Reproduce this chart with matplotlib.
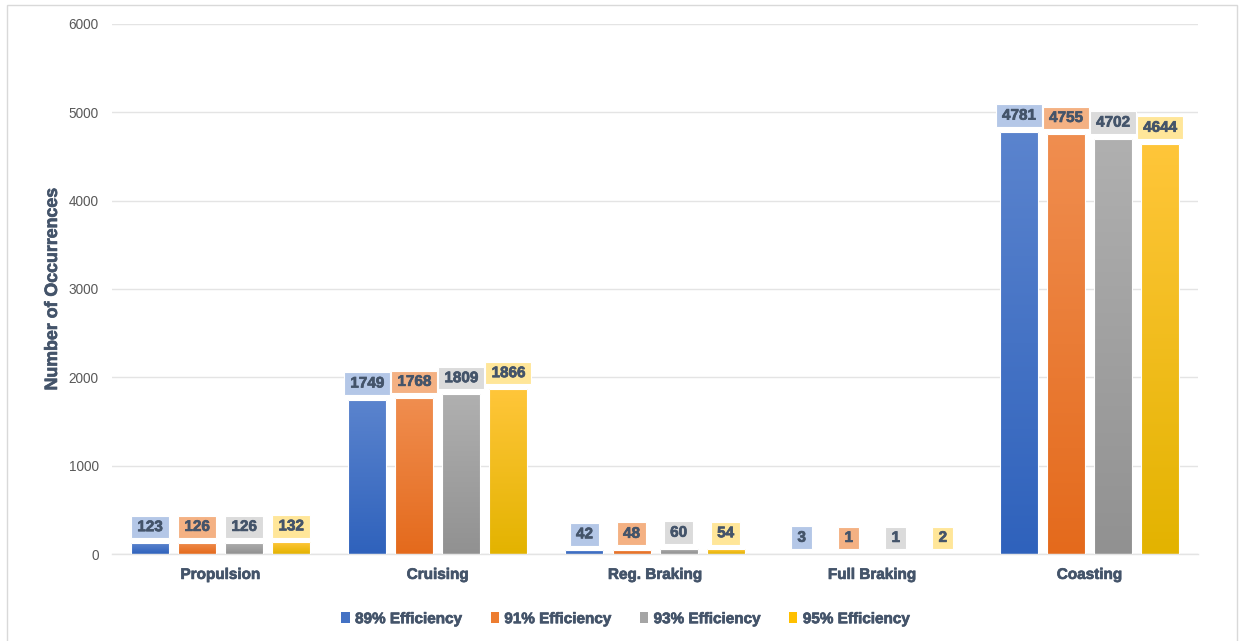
import matplotlib
matplotlib.use("Agg")
import matplotlib.pyplot as plt
import matplotlib.patheffects as pe
import numpy as np
from matplotlib.colors import LinearSegmentedColormap
from matplotlib.patches import Rectangle
from matplotlib.path import Path

categories = ["Propulsion", "Cruising", "Reg. Braking", "Full Braking", "Coasting"]
series_names = ["89% Efficiency", "91% Efficiency", "93% Efficiency", "95% Efficiency"]
eff89 = [123, 1749, 42, 3, 4781]
eff91 = [126, 1768, 48, 1, 4755]
eff93 = [126, 1809, 60, 1, 4702]
eff95 = [132, 1866, 54, 2, 4644]
series_values = [eff89, eff91, eff93, eff95]

# (top colour, bottom colour, label box colour)
palette = [
    ("#5B84CE", "#2F62BC", "#B4C7E7"),
    ("#F08E50", "#E46A1C", "#F4B183"),
    ("#B0B0B0", "#919191", "#DBDBDB"),
    ("#FFC63A", "#E3B300", "#FFE699"),
]
legend_colors = ["#4472C4", "#ED7D31", "#A5A5A5", "#FFC000"]
text_dark = "#44546A"
font = "Liberation Sans"
plt.rcParams["font.family"] = [font, "DejaVu Sans"]
heavy = [pe.withStroke(linewidth=0.5, foreground=text_dark)]


def label_box(x0, y0, width, height, mutation_size):
    """Rectangle with wider horizontal than vertical padding."""
    px = 0.40 * mutation_size
    py = 0.28 * mutation_size
    x0, y0 = x0 - px, y0 - py
    x1, y1 = x0 + width + 2 * px, y0 + height + 2 * py
    return Path([(x0, y0), (x1, y0), (x1, y1), (x0, y1), (x0, y0)], closed=True)


fig = plt.figure(figsize=(12.39, 6.41), dpi=100)
ax = fig.add_axes([0.0904, 0.1357, 0.8766, 0.8269])

# outer frame
fig.patches.append(Rectangle((7 / 1239, -0.01), 1230 / 1239, 1 - 5 / 641 + 0.01,
                             transform=fig.transFigure, fill=False,
                             edgecolor="#D9D9D9", linewidth=1.0))

x = np.arange(len(categories))
step = 0.2166
width = 0.175
offsets = (np.arange(4) - 1.5) * step

ax.set_xlim(-0.5, len(categories) - 0.5)
ax.set_ylim(0, 6000)

for i, vals in enumerate(series_values):
    top_c, bot_c, box_c = palette[i]
    cmap = LinearSegmentedColormap.from_list(f"g{i}", [bot_c, top_c])
    bars = ax.bar(x + offsets[i], vals, width=width, color="none",
                  edgecolor="white", linewidth=0.8, zorder=3,
                  label=series_names[i])
    for b, v in zip(bars, vals):
        x0 = b.get_x()
        grad = np.linspace(0, 1, 256).reshape(-1, 1)
        im = ax.imshow(grad, cmap=cmap, origin="lower", aspect="auto",
                       extent=[x0, x0 + width, 0, max(v, 1)], zorder=2,
                       interpolation="bicubic")
        im.set_clip_path(b)
        t = ax.annotate(str(v), xy=(b.get_x() + width / 2, v), xytext=(0, 16),
                        textcoords="offset pixels",
                        ha="center", va="center", fontsize=11, fontweight="bold",
                        color=text_dark, zorder=5,
                        bbox=dict(boxstyle=label_box, facecolor=box_c,
                                  edgecolor="white", linewidth=0.8))
        t.set_path_effects(heavy)

ax.set_yticks(np.arange(0, 6001, 1000))
ax.yaxis.grid(True, color="#E4E4E4", linewidth=1.0, zorder=0)
ax.set_axisbelow(True)
ax.tick_params(axis="y", length=0, labelsize=9.8, labelcolor="#595959", pad=9.5)
ax.set_xticks(x)
ax.set_xticklabels(categories, fontsize=11, fontweight="bold", color=text_dark)
for lbl in ax.get_xticklabels():
    lbl.set_path_effects(heavy)
ax.tick_params(axis="x", length=0, pad=10)
for s in ["top", "right", "left"]:
    ax.spines[s].set_visible(False)
ax.spines["bottom"].set_color("#E4E4E4")
ax.spines["bottom"].set_linewidth(1.0)

ylab = ax.set_ylabel("Number of Occurrences", fontsize=12.8, fontweight="bold",
                     color=text_dark)
ylab.set_path_effects(heavy)
ax.yaxis.set_label_coords(-0.047, 0.5)

handles = [Rectangle((0, 0), 1, 1, facecolor=c, edgecolor="none") for c in legend_colors]
leg = fig.legend(handles, series_names, loc="center", bbox_to_anchor=(0.505, 0.034),
                 ncol=4, frameon=False, handlelength=0.55, handleheight=0.75,
                 handletextpad=0.35, columnspacing=1.85,
                 prop=dict(family=font, size=11, weight="bold"), labelcolor=text_dark)
for txt in leg.get_texts():
    txt.set_path_effects(heavy)

fig.savefig("out.png", dpi=100, facecolor="white")
